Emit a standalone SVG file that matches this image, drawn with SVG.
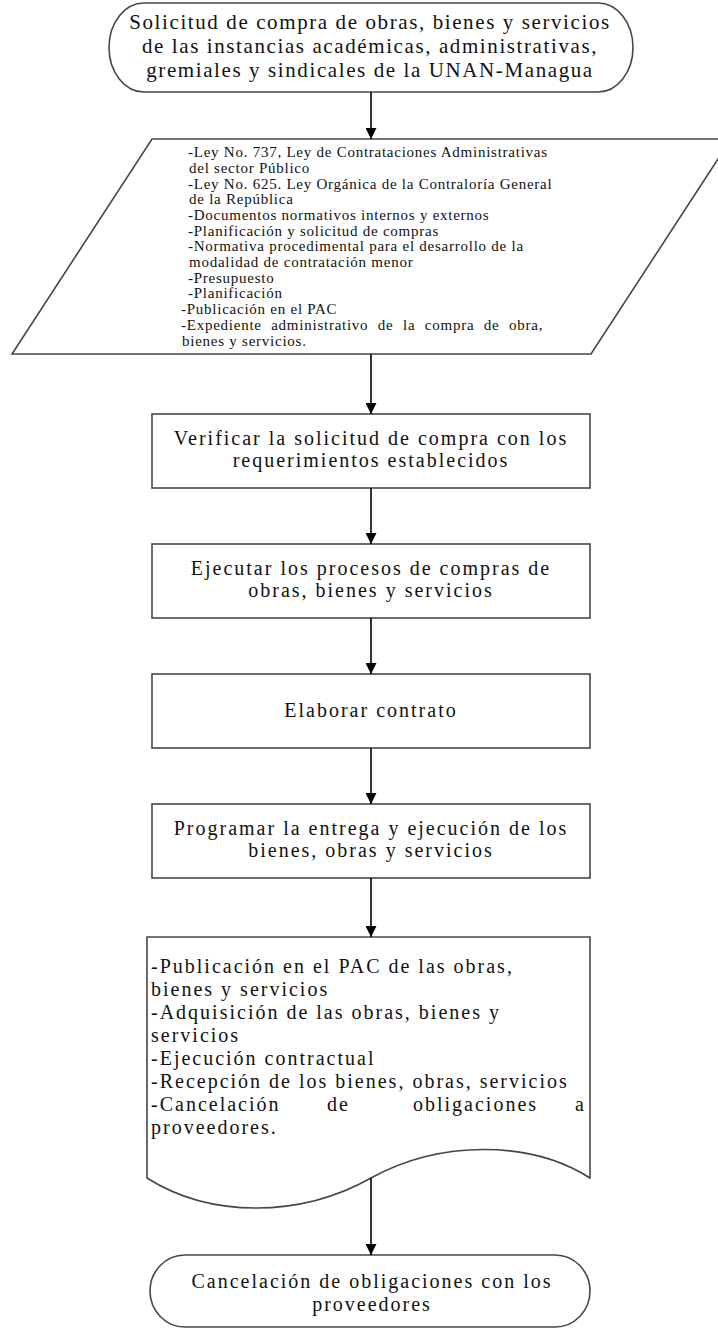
<svg xmlns="http://www.w3.org/2000/svg" width="718" height="1330" viewBox="0 0 718 1330">
<defs>
<marker id="ah" viewBox="0 0 10 10" refX="10" refY="5" markerWidth="11" markerHeight="11" markerUnits="userSpaceOnUse" orient="auto">
<path d="M0,0 L10,5 L0,10 Z" fill="#000"/>
</marker>
<style>
.shape{fill:#fff;stroke:#4a4541;stroke-width:1.6}
.t{font-family:"Liberation Serif","Times New Roman",serif;fill:#111}
.big{font-size:21px;letter-spacing:1.6px}
.mid{font-size:20px;letter-spacing:2px}
.small{font-size:15px;letter-spacing:0.75px}
.c{text-anchor:middle}
.conn line{stroke:#000;stroke-width:1.6;marker-end:url(#ah)}
</style>
</defs>
<rect width="718" height="1330" fill="#fff"/>
<g id="start">
<path class="shape" d="M144,3 H598 A35,44.5 0 0 1 598,92 H144 A35,44.5 0 0 1 144,3 Z"/>
<text class="t big c" x="370" y="29">Solicitud de compra de obras, bienes y servicios</text>
<text class="t big c" x="370" y="53">de las instancias académicas, administrativas,</text>
<text class="t big c" x="370" y="77">gremiales y sindicales de la UNAN-Managua</text>
</g>
<g id="inputs">
<path class="shape" d="M152,139 L731,139 L591,354 L12,354 Z"/>
<text class="t small" x="188" y="157">-Ley No. 737, Ley de Contrataciones Administrativas</text>
<text class="t small" x="189" y="173">del sector Público</text>
<text class="t small" x="188" y="189">-Ley No. 625. Ley Orgánica de la Contraloría General</text>
<text class="t small" x="189" y="204">de la República</text>
<text class="t small" x="188" y="220">-Documentos normativos internos y externos</text>
<text class="t small" x="188" y="236">-Planificación y solicitud de compras</text>
<text class="t small" x="188" y="251">-Normativa procedimental para el desarrollo de la</text>
<text class="t small" x="189" y="267">modalidad de contratación menor</text>
<text class="t small" x="188" y="283">-Presupuesto</text>
<text class="t small" x="188" y="298">-Planificación</text>
<text class="t small" x="181" y="314">-Publicación en el PAC</text>
<text class="t small" x="181" y="330" style="word-spacing:5px">-Expediente administrativo de la compra de obra,</text>
<text class="t small" x="182" y="346">bienes y servicios.</text>
</g>
<g id="verificar">
<rect class="shape" x="152" y="414" width="438" height="74"/>
<text class="t mid c" x="371" y="445">Verificar la solicitud de compra con los</text>
<text class="t mid c" x="371" y="467">requerimientos establecidos</text>
</g>
<g id="ejecutar">
<rect class="shape" x="152" y="544" width="438" height="74"/>
<text class="t mid c" x="371" y="575">Ejecutar los procesos de compras de</text>
<text class="t mid c" x="371" y="597">obras, bienes y servicios</text>
</g>
<g id="elaborar">
<rect class="shape" x="152" y="674" width="438" height="74"/>
<text class="t mid c" x="371" y="717">Elaborar contrato</text>
</g>
<g id="programar">
<rect class="shape" x="152" y="804" width="438" height="74"/>
<text class="t mid c" x="371" y="835">Programar la entrega y ejecución de los</text>
<text class="t mid c" x="371" y="857">bienes, obras y servicios</text>
</g>
<g id="documento">
<path class="shape" d="M147,937 H590 V1178 C530,1140 440,1140 371,1178 C300,1218 210,1218 147,1178 Z"/>
<text class="t mid" x="151" y="973">-Publicación en el PAC de las obras,</text>
<text class="t mid" x="151" y="996">bienes y servicios</text>
<text class="t mid" x="151" y="1019">-Adquisición de las obras, bienes y</text>
<text class="t mid" x="151" y="1042">servicios</text>
<text class="t mid" x="151" y="1065">-Ejecución contractual</text>
<text class="t mid" x="151" y="1088">-Recepción de los bienes, obras, servicios</text>
<text class="t mid" y="1111"><tspan x="151">-Cancelación</tspan><tspan x="327">de</tspan><tspan x="413">obligaciones</tspan><tspan x="575">a</tspan></text>
<text class="t mid" x="151" y="1134">proveedores.</text>
</g>
<g id="fin">
<path class="shape" d="M185,1255 H555 A35,36 0 0 1 555,1327 H185 A35,36 0 0 1 185,1255 Z"/>
<text class="t mid c" x="372" y="1288">Cancelación de obligaciones con los</text>
<text class="t mid c" x="372" y="1311">proveedores</text>
</g>
<g class="conn" id="connectors">
<line x1="371" y1="92" x2="371" y2="139"/>
<line x1="371" y1="354" x2="371" y2="414"/>
<line x1="371" y1="488" x2="371" y2="544"/>
<line x1="371" y1="618" x2="371" y2="674"/>
<line x1="371" y1="748" x2="371" y2="804"/>
<line x1="371" y1="878" x2="371" y2="937"/>
<line x1="371" y1="1178" x2="371" y2="1255"/>
</g>
</svg>
